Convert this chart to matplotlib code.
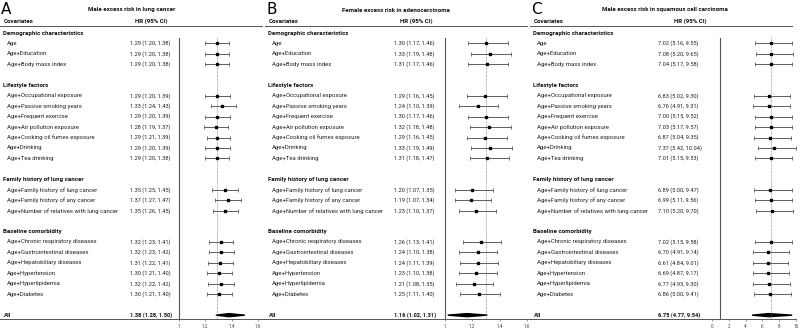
import matplotlib.pyplot as plt
from matplotlib.patches import Polygon

plt.rcParams['font.family'] = ['Roboto', 'DejaVu Sans']

# data
panel_letters = ["A", "B", "C"]
panel_titles = ["Male excess risk in lung cancer",
                "Female excess risk in adenocarcinoma",
                "Male excess risk in squamous cell carcinoma"]

sections = ["Demographic characteristics", "Lifestyle factors",
            "Family history of lung cancer", "Baseline comorbidity"]
section_items = [
    ["Age", "Age+Education", "Age+Body mass index"],
    ["Age+Occupational exposure", "Age+Passive smoking years", "Age+Frequent exercise",
     "Age+Air pollution exposure", "Age+Cooking oil fumes exposure", "Age+Drinking",
     "Age+Tea drinking"],
    ["Age+Family history of lung cancer", "Age+Family history of any cancer",
     "Age+Number of relatives with lung cancer"],
    ["Age+Chronic respiratory diseases", "Age+Gastrointestinal diseases",
     "Age+Hepatobiliary diseases", "Age+Hypertension", "Age+Hyperlipidemia",
     "Age+Diabetes"],
]

hr_a = [1.29, 1.29, 1.29, 1.29, 1.33, 1.29, 1.28, 1.29, 1.29, 1.29,
        1.35, 1.37, 1.35, 1.32, 1.32, 1.31, 1.30, 1.32, 1.30]
lo_a = [1.20, 1.20, 1.20, 1.20, 1.24, 1.20, 1.19, 1.21, 1.20, 1.20,
        1.25, 1.27, 1.26, 1.23, 1.23, 1.22, 1.21, 1.22, 1.21]
hi_a = [1.38, 1.38, 1.38, 1.39, 1.43, 1.39, 1.37, 1.39, 1.39, 1.38,
        1.45, 1.47, 1.45, 1.41, 1.42, 1.41, 1.40, 1.42, 1.40]
all_a = (1.38, 1.28, 1.50)

hr_b = [1.30, 1.33, 1.31, 1.29, 1.24, 1.30, 1.32, 1.29, 1.33, 1.31,
        1.20, 1.19, 1.23, 1.26, 1.24, 1.24, 1.23, 1.21, 1.25]
lo_b = [1.17, 1.19, 1.17, 1.16, 1.10, 1.17, 1.18, 1.16, 1.19, 1.18,
        1.07, 1.07, 1.10, 1.13, 1.10, 1.11, 1.10, 1.08, 1.11]
hi_b = [1.46, 1.48, 1.46, 1.45, 1.39, 1.46, 1.48, 1.45, 1.49, 1.47,
        1.35, 1.34, 1.37, 1.41, 1.38, 1.39, 1.38, 1.35, 1.40]
all_b = (1.16, 1.02, 1.31)

hr_c = [7.02, 7.08, 7.04, 6.83, 6.76, 7.00, 7.03, 6.87, 7.37, 7.01,
        6.89, 6.99, 7.10, 7.02, 6.70, 6.61, 6.69, 6.77, 6.86]
lo_c = [5.16, 5.20, 5.17, 5.02, 4.91, 5.15, 5.17, 5.04, 5.42, 5.15,
        5.00, 5.11, 5.20, 5.15, 4.91, 4.84, 4.87, 4.93, 5.00]
hi_c = [9.55, 9.65, 9.58, 9.30, 9.31, 9.52, 9.57, 9.35, 10.04, 9.53,
        9.47, 9.56, 9.70, 9.58, 9.14, 9.01, 9.17, 9.30, 9.41]
all_c = (6.75, 4.77, 9.54)

ticks_ab = [1, 1.2, 1.4, 1.6]
ticks_c = [0, 2, 4, 6, 8, 10]

panels = [
    (hr_a, lo_a, hi_a, all_a, ticks_ab),
    (hr_b, lo_b, hi_b, all_b, ticks_ab),
    (hr_c, lo_c, hi_c, all_c, ticks_c),
]

# layout in pixels
W, H = 800, 335
panel_x0 = [0, 265, 530]
panel_w = 268
y0, pitch = 33, 10.45
line_y = 319


def row(py):
    return (py - y0) / pitch


# (pixel of first tick, pixel of last tick) inside each panel
tick_px = [(179, 258), (180, 262), (182, 266)]
hr_col_x = [130, 129, 128]
hr_head_x = [151, 151, 160]
title_x = [132, 131, 135]

fig = plt.figure(figsize=(W / 100, H / 100), dpi=100)
renderer = fig.canvas.get_renderer()


def fit_size(s, target_px, weight='normal'):
    # font size that makes string s about target_px wide
    t = fig.text(0, 0, s, fontsize=10, fontweight=weight)
    w = t.get_window_extent(renderer=renderer).width
    t.remove()
    return 10 * target_px / w


fs = fit_size("Age+Number of relatives with lung cancer", 111)
fs_num = fit_size("1.29 (1.20, 1.38)", 41)
fs_head = fit_size("Demographic characteristics", 79, 'bold')
fs_title = fit_size("Male excess risk in lung cancer", 87, 'bold')

# row index of each entry
item_rows, header_rows = [], []
r = 0
for items in section_items:
    header_rows.append(r)
    item_rows += [r + 1 + k for k in range(len(items))]
    r += len(items) + 2
all_row = r
labels = [lab for items in section_items for lab in items]

for p, (hr, lo, hi, tot, ticks) in enumerate(panels):
    x0 = panel_x0[p]
    # text axes, x in pixels of the panel, y in rows
    at = fig.add_axes([x0 / W, 0, panel_w / W, 1])
    at.set_xlim(0, panel_w)
    at.set_ylim(row(H), row(0))
    at.axis('off')

    at.text(1, row(9.5), panel_letters[p], fontsize=11, va='center', ha='left',
            family=['DejaVu Sans'])
    at.text(title_x[p], row(10), panel_titles[p], fontsize=fs_title, fontweight='bold',
            ha='center', va='center', color='#111111')
    at.text(4, row(21.5), "Covariates", fontsize=fs_head, fontweight='bold', va='center',
            color='#111111')
    at.text(hr_head_x[p], row(21.5), "HR (95% CI)", fontsize=fs_head, fontweight='bold',
            ha='center', va='center', color='#111111')
    at.plot([0, 262], [row(26)] * 2, color='#555555', lw=0.7)
    at.plot([0, 266], [row(line_y)] * 2, color='#555555', lw=0.7)

    for s, rr in zip(sections, header_rows):
        at.text(3, rr, s, fontsize=fs_head, fontweight='bold', va='center', color='#111111')
    for lab, rr, h, l, u in zip(labels, item_rows, hr, lo, hi):
        at.text(7, rr, lab, fontsize=fs, va='center', color='#222222')
        at.text(hr_col_x[p], rr, f"{h:.2f} ({l:.2f}, {u:.2f})", fontsize=fs_num,
                va='center', color='#222222')
    at.text(4, all_row, "All", fontsize=fs_head, fontweight='bold', va='center',
            color='#111111')
    at.text(hr_col_x[p], all_row, f"{tot[0]:.2f} ({tot[1]:.2f}, {tot[2]:.2f})",
            fontsize=fs_num, fontweight='bold', va='center', color='#111111')

    # forest axes
    px1, px2 = tick_px[p]
    t0, t1 = ticks[0], ticks[-1]
    scale = (px2 - px1) / (t1 - t0)
    fx0, fx1 = px1 - 8, panel_w - 1
    af = fig.add_axes([(x0 + fx0) / W, (H - line_y) / H, (fx1 - fx0) / W, line_y / H])
    af.set_xlim(t0 + (fx0 - px1) / scale, t0 + (fx1 - px1) / scale)
    af.set_ylim(row(line_y), row(0))
    af.patch.set_alpha(0)
    for sp in af.spines.values():
        sp.set_visible(False)
    af.set_yticks([])
    af.set_xticks(ticks)
    af.set_xticklabels([f"{t:g}" for t in ticks])
    af.tick_params(axis='x', length=1.5, width=0.4, labelsize=3.3, pad=2,
                   colors='#444444')

    af.plot([1, 1], [0.45, row(line_y)], color='#555555', lw=0.8)
    af.plot([hr[0], hr[0]], [0.35, row(line_y)], color='#777777', lw=0.5, ls=(0, (1, 1)))
    af.errorbar(hr, item_rows, xerr=[[h - l for h, l in zip(hr, lo)],
                                     [u - h for h, u in zip(hr, hi)]],
                fmt='s', color='black', ms=2.0, ecolor='#444444', elinewidth=0.6,
                capsize=1.2, capthick=0.5)
    dia = Polygon([[tot[1], all_row], [tot[0], all_row - 0.15],
                   [tot[2], all_row], [tot[0], all_row + 0.15]],
                  closed=True, color='black')
    af.add_patch(dia)

fig.savefig("out.png", dpi=100)
